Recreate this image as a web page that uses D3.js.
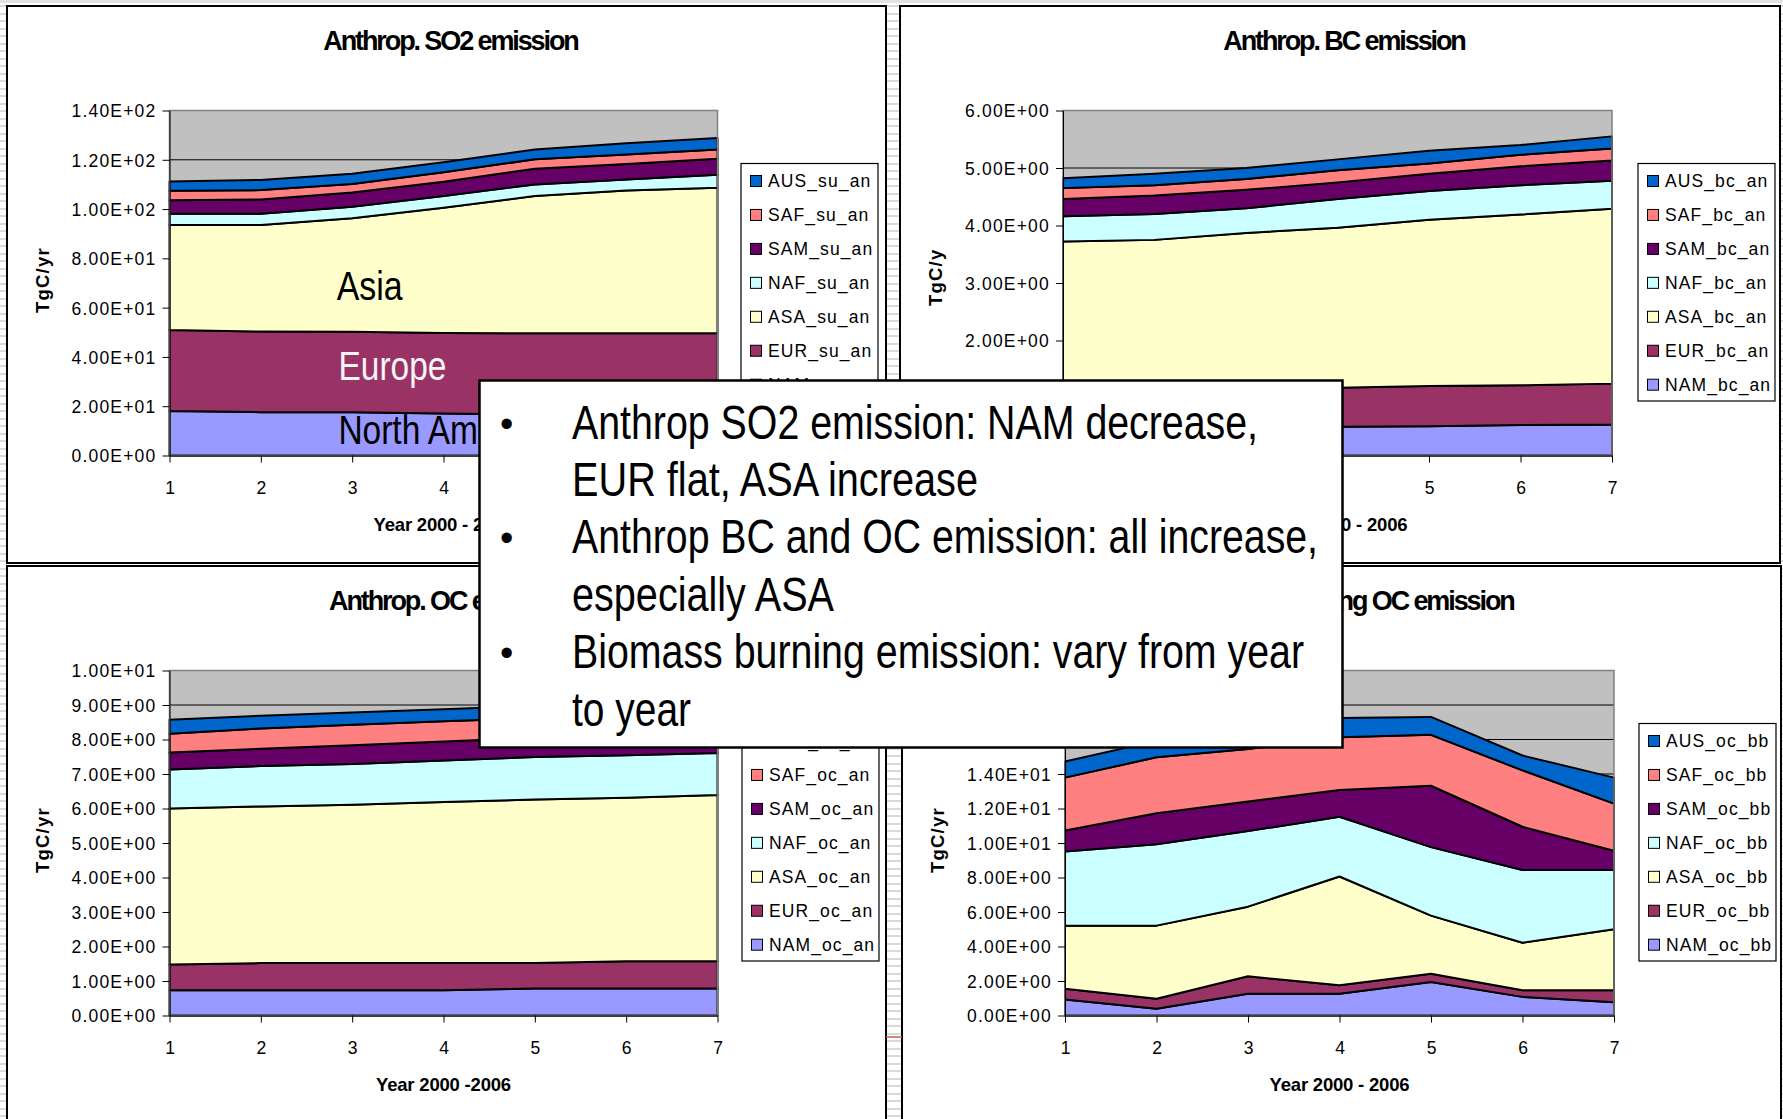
<!DOCTYPE html>
<html>
<head>
<meta charset="utf-8">
<script src="https://cdn.jsdelivr.net/npm/d3@7"></script>
<style>
  html, body { margin: 0; padding: 0; }
  body {
    width: 1783px; height: 1119px; overflow: hidden;
    background: #fff repeating-linear-gradient(to bottom, #fff 0, #fff 5.5px, #dadada 5.5px, #dadada 7.5px);
  }
  svg { display: block; }
  .chart-text { font-family: "Liberation Sans", Arial, sans-serif; }
  .narrow { font-family: "Liberation Sans Narrow", "Arial Narrow", "Liberation Sans", sans-serif; }
</style>
</head>
<body>
<svg id="slide" width="1783" height="1119"></svg>
<script>
// ---- categories and series (emissions by region, 2000-2006) ----
const years = [1, 2, 3, 4, 5, 6, 7];
const regions = ["NAM", "EUR", "ASA", "NAF", "SAM", "SAF", "AUS"];
const regionColors = ["#9999FF", "#993366", "#FFFFCC", "#CCFFFF", "#660066", "#FF8080", "#0066CC"];

// Anthropogenic SO2
const so2NAM = [18.1, 17.6, 17.6, 17.0, 16.6, 16.2, 15.9];
const so2EUR = [32.8, 32.7, 32.6, 32.7, 33.0, 33.4, 33.7];
const so2ASA = [42.6, 43.2, 46.1, 50.8, 55.7, 57.9, 59.1];
const so2NAF = [4.6, 4.6, 4.6, 4.8, 4.7, 4.5, 5.2];
const so2SAM = [5.5, 5.8, 5.8, 5.8, 6.4, 6.3, 6.5];
const so2SAF = [3.8, 3.8, 3.5, 3.8, 3.8, 3.8, 3.8];
const so2AUS = [3.8, 4.1, 4.1, 4.1, 4.0, 4.6, 4.6];

// Anthropogenic BC
const bcNAM = [0.50, 0.49, 0.49, 0.50, 0.51, 0.53, 0.54];
const bcEUR = [0.62, 0.65, 0.67, 0.68, 0.70, 0.69, 0.71];
const bcASA = [2.60, 2.61, 2.71, 2.78, 2.89, 2.97, 3.04];
const bcNAF = [0.44, 0.45, 0.43, 0.50, 0.50, 0.51, 0.49];
const bcSAM = [0.30, 0.32, 0.32, 0.29, 0.30, 0.33, 0.35];
const bcSAF = [0.19, 0.18, 0.19, 0.21, 0.18, 0.20, 0.21];
const bcAUS = [0.17, 0.20, 0.19, 0.19, 0.22, 0.17, 0.21];

// Anthropogenic OC
const ocNAM = [0.73, 0.73, 0.73, 0.73, 0.78, 0.78, 0.78];
const ocEUR = [0.75, 0.79, 0.79, 0.79, 0.74, 0.79, 0.79];
const ocASA = [4.52, 4.54, 4.59, 4.67, 4.74, 4.74, 4.82];
const ocNAF = [1.13, 1.17, 1.18, 1.20, 1.23, 1.23, 1.22];
const ocSAM = [0.49, 0.50, 0.54, 0.55, 0.56, 0.58, 0.59];
const ocSAF = [0.55, 0.59, 0.60, 0.59, 0.57, 0.58, 0.58];
const ocAUS = [0.40, 0.37, 0.35, 0.35, 0.36, 0.36, 0.37];

// Biomass burning OC
const bbNAM = [0.93, 0.39, 1.26, 1.26, 1.94, 1.08, 0.77];
const bbEUR = [0.62, 0.58, 1.01, 0.50, 0.48, 0.39, 0.70];
const bbASA = [3.66, 4.24, 4.04, 6.30, 3.37, 2.75, 3.53];
const bbNAF = [4.30, 4.72, 4.38, 3.46, 3.97, 4.22, 3.44];
const bbSAM = [1.22, 1.79, 1.72, 1.55, 3.56, 2.50, 1.11];
const bbSAF = [3.06, 3.25, 3.04, 3.06, 2.95, 3.27, 2.73];
const bbAUS = [0.93, 0.95, 1.00, 1.12, 1.04, 0.86, 1.51];

// y-axis tick values
const so2Ticks = [0, 20, 40, 60, 80, 100, 120, 140];
const bcTicks = [0, 1, 2, 3, 4, 5, 6];
const ocTicks = [0, 1, 2, 3, 4, 5, 6, 7, 8, 9, 10];
const bbTicks = [0, 2, 4, 6, 8, 10, 12, 14, 16, 18, 20];

// region labels written inside the SO2 chart (year, value)
const so2Labels = ["Asia", "Europe", "North America"];
const so2LabelYears = [2.83, 2.85, 2.85];
const so2LabelValues = [63.1, 30.7, 4.7];

// summary bullets
const noteLines = [
  "Anthrop SO2 emission: NAM decrease,",
  "EUR flat, ASA increase",
  "Anthrop BC and OC emission: all increase,",
  "especially ASA",
  "Biomass burning emission: vary from year",
  "to year"
];
const noteBullets = [true, false, true, false, true, false];

// ---- layout ----
const panels = [
  { px: 7,   py: 6,   pw: 879, ph: 557, title: "Anthrop. SO2 emission", tag: "su_an",
    series: [so2NAM, so2EUR, so2ASA, so2NAF, so2SAM, so2SAF, so2AUS], ticks: so2Ticks,
    yTitle: "TgC/yr", yTitleDy: 307, xTitle: "Year 2000 - 2006", plotDx: 162.5, plotW: 548, legendDx: 734 },
  { px: 900, py: 6,   pw: 880, ph: 557, title: "Anthrop. BC emission", tag: "bc_an",
    series: [bcNAM, bcEUR, bcASA, bcNAF, bcSAM, bcSAF, bcAUS], ticks: bcTicks,
    yTitle: "TgC/y", yTitleDy: 300, xTitle: "Year 2000 - 2006", plotDx: 163, plotW: 549, legendDx: 738 },
  { px: 7,   py: 566, pw: 879, ph: 600, title: "Anthrop. OC emission", tag: "oc_an",
    series: [ocNAM, ocEUR, ocASA, ocNAF, ocSAM, ocSAF, ocAUS], ticks: ocTicks,
    yTitle: "TgC/yr", yTitleDy: 307, xTitle: "Year 2000 -2006", plotDx: 162.5, plotW: 548, legendDx: 735 },
  { px: 902, py: 566, pw: 879, ph: 600, title: "Biomass burning OC emission", tag: "oc_bb",
    series: [bbNAM, bbEUR, bbASA, bbNAF, bbSAM, bbSAF, bbAUS], ticks: bbTicks,
    yTitle: "TgC/yr", yTitleDy: 307, xTitle: "Year 2000 - 2006", plotDx: 163, plotW: 549, legendDx: 737 }
];
const PLOT_DY = 104.5, PLOT_H = 345;
const LEGEND_DY = 157.5, LEGEND_W = 137, LEGEND_ROW = 33.95;

// 1.40E+02 style labels
function sci(v) {
  const [m, e] = v.toExponential(2).split("e");
  const n = +e;
  return m + "E" + (n < 0 ? "-" : "+") + String(Math.abs(n)).padStart(2, "0");
}

const svg = d3.select("#slide");
svg.append("rect").attr("x", 0).attr("y", 0).attr("width", 1783).attr("height", 3).attr("fill", "#e2e2e2");

function drawPanel(p) {
  const g = svg.append("g").attr("class", "chart-text");

  // chart frame
  g.append("rect")
    .attr("x", p.px).attr("y", p.py).attr("width", p.pw).attr("height", p.ph)
    .attr("fill", "#fff").attr("stroke", "#000").attr("stroke-width", 2);

  // title
  g.append("text")
    .attr("x", p.px + p.pw / 2 + 4).attr("y", p.py + 44)
    .attr("text-anchor", "middle")
    .attr("font-weight", "bold").attr("font-size", 27).attr("letter-spacing", -2.1)
    .text(p.title);

  const left = p.px + p.plotDx, top = p.py + PLOT_DY;
  const x = d3.scaleLinear().domain([1, 7]).range([0, p.plotW]);
  const y = d3.scaleLinear().domain([0, d3.max(p.ticks)]).range([PLOT_H, 0]);

  const plot = g.append("g").attr("transform", `translate(${left},${top})`);

  plot.append("rect").attr("width", p.plotW).attr("height", PLOT_H).attr("fill", "#C0C0C0");

  // gridlines
  plot.selectAll("line.grid").data(p.ticks.slice(1)).join("line")
    .attr("class", "grid")
    .attr("x1", 0).attr("x2", p.plotW)
    .attr("y1", d => y(d)).attr("y2", d => y(d))
    .attr("stroke", "#000").attr("stroke-width", 1);

  // stacked areas
  const rows = years.map((yr, i) => {
    const r = { year: yr };
    regions.forEach((k, j) => r[k] = p.series[j][i]);
    return r;
  });
  const stacked = d3.stack().keys(regions)(rows);
  const area = d3.area()
    .x(d => x(d.data.year))
    .y0(d => y(d[0]))
    .y1(d => y(d[1]));
  plot.selectAll("path.band").data(stacked).join("path")
    .attr("class", "band")
    .attr("d", area)
    .attr("fill", (d, i) => regionColors[i])
    .attr("stroke", "#000").attr("stroke-width", 2)
    .attr("stroke-linejoin", "round");

  // plot border
  plot.append("rect").attr("width", p.plotW).attr("height", PLOT_H)
    .attr("fill", "none").attr("stroke", "#808080").attr("stroke-width", 1.5);

  // y axis
  const yAxis = plot.append("g")
    .call(d3.axisLeft(y).tickValues(p.ticks).tickFormat(sci).tickSize(7).tickSizeOuter(0).tickPadding(6));
  yAxis.attr("font-family", null).attr("font-size", null);
  yAxis.selectAll("text").attr("font-size", 17.5).attr("letter-spacing", 1.2).attr("dy", "0.37em");
  yAxis.selectAll("path, line").attr("stroke", "#000");

  // x axis
  const xAxis = plot.append("g").attr("transform", `translate(0,${PLOT_H})`)
    .call(d3.axisBottom(x).tickValues(years).tickFormat(d3.format("d")).tickSize(7).tickSizeOuter(0));
  xAxis.attr("font-family", null).attr("font-size", null);
  xAxis.selectAll("text").attr("font-size", 17.5).attr("y", 38.7).attr("dy", 0);
  xAxis.selectAll("path, line").attr("stroke", "#000");

  // axis titles
  g.append("text")
    .attr("x", left + p.plotW / 2).attr("y", top + PLOT_H + 75)
    .attr("text-anchor", "middle").attr("font-weight", "bold").attr("font-size", 18.5)
    .attr("letter-spacing", -0.2)
    .text(p.xTitle);
  g.append("text")
    .attr("transform", `translate(${p.px + 42},${p.py + p.yTitleDy}) rotate(-90)`)
    .attr("font-weight", "bold").attr("font-size", 18.5).attr("letter-spacing", 1.2)
    .text(p.yTitle);

  // legend
  const lg = g.append("g").attr("transform", `translate(${p.px + p.legendDx},${p.py + LEGEND_DY})`);
  lg.append("rect").attr("width", LEGEND_W).attr("height", 237.5)
    .attr("fill", "#fff").attr("stroke", "#000").attr("stroke-width", 1.2);
  const order = regions.map((r, i) => i).reverse();
  const item = lg.selectAll("g.item").data(order).join("g")
    .attr("class", "item")
    .attr("transform", (d, k) => `translate(0,${17.5 + k * LEGEND_ROW})`);
  item.append("rect").attr("x", 9.5).attr("y", -5.5).attr("width", 11).attr("height", 11)
    .attr("fill", d => regionColors[d]).attr("stroke", "#000").attr("stroke-width", 1);
  item.append("text").attr("x", 27).attr("y", 6.3)
    .attr("font-size", 17.5).attr("letter-spacing", 1.1)
    .text(d => `${regions[d]}_${p.tag}`);

  return { plot, x, y };
}

const drawn = panels.map(drawPanel);

// region names inside the SO2 chart
const so2 = drawn[0];
const so2LabelWidths = [66, 108, 212];
so2.plot.selectAll("text.region").data(so2Labels).join("text")
  .attr("class", "region narrow")
  .attr("x", (d, i) => so2.x(so2LabelYears[i]))
  .attr("y", (d, i) => so2.y(so2LabelValues[i]))
  .attr("font-size", 41)
  .attr("textLength", (d, i) => so2LabelWidths[i]).attr("lengthAdjust", "spacingAndGlyphs")
  .attr("fill", (d, i) => i === 1 ? "#f4f4f4" : "#000")
  .text(d => d);

// small red rule between the lower charts
svg.append("line").attr("x1", 886).attr("x2", 902).attr("y1", 1037).attr("y2", 1037)
  .attr("stroke", "#d9534f").attr("stroke-width", 1.5);

// summary text box
const box = svg.append("g").attr("class", "narrow");
box.append("rect")
  .attr("x", 479.5).attr("y", 380.5).attr("width", 863).attr("height", 367)
  .attr("fill", "#fff").attr("stroke", "#000").attr("stroke-width", 2.5);
const noteWidths = [686, 406, 746, 262, 732, 119];
noteLines.forEach((t, i) => {
  const base = 438.5 + i * 57.4;
  if (noteBullets[i]) {
    box.append("text").attr("x", 500).attr("y", base - 2).attr("font-size", 38).text("\u2022");
  }
  box.append("text").attr("x", 572).attr("y", base)
    .attr("font-size", 48)
    .attr("textLength", noteWidths[i]).attr("lengthAdjust", "spacingAndGlyphs")
    .text(t);
});
</script>
</body>
</html>
